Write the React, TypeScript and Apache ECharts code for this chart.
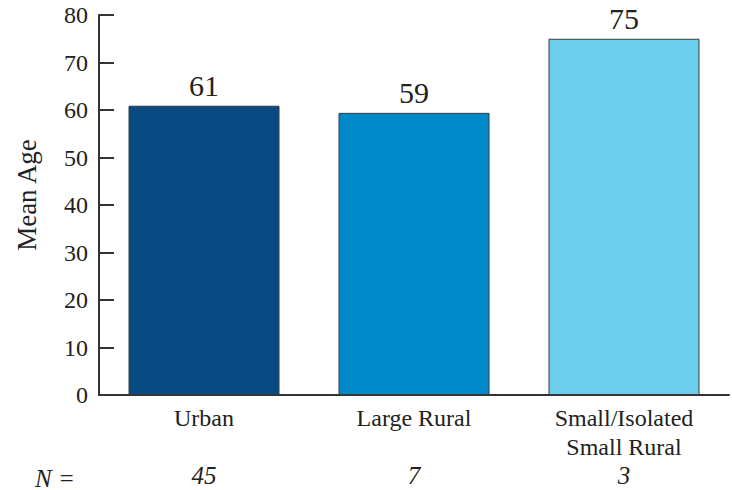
import React, { useEffect, useRef } from "react";
import * as echarts from "echarts";

const categories = ["Urban", "Large Rural", "Small/Isolated\nSmall Rural"];
const meanAge = [60.9, 59.4, 75];
const nValues = ["45", "7", "3"];
const barColors = ["#084B83", "#0089CA", "#6DCDEC"];
const yTicks = [0, 10, 20, 30, 40, 50, 60, 70, 80];

const FONT = "Liberation Serif";

export default function App() {
  const ref = useRef<HTMLDivElement>(null);
  useEffect(() => {
    const chart = echarts.init(ref.current!, null, { renderer: "svg" });
    chart.setOption({
      animation: false,
      grid: { left: 99, top: 15, width: 630, height: 380, containLabel: false },
      xAxis: [
        {
          type: "category",
          data: categories,
          axisLine: { show: true, lineStyle: { color: "#333", width: 2 } },
          axisTick: { show: false },
          axisLabel: {
            fontFamily: FONT,
            fontSize: 24,
            color: "#222",
            margin: 8,
            lineHeight: 29,
          },
        },
        {
          type: "category",
          data: nValues,
          position: "bottom",
          axisLine: { show: false },
          axisTick: { show: false },
          axisLabel: {
            fontFamily: FONT,
            fontSize: 25,
            fontStyle: "italic",
            color: "#222",
            margin: 68,
          },
        },
      ],
      yAxis: {
        type: "value",
        min: 0,
        max: 80,
        interval: 10,
        axisLine: { show: true, lineStyle: { color: "#333", width: 2 } },
        axisTick: { show: true, inside: true, length: 15, lineStyle: { color: "#333", width: 2 } },
        axisLabel: {
          fontFamily: FONT,
          fontSize: 24,
          color: "#222",
          margin: 11,
          formatter: (v: number) => (yTicks.includes(v) ? String(v) : ""),
        },
        splitLine: { show: false },
      },
      graphic: [
        {
          type: "text",
          x: 27,
          y: 195,
          rotation: Math.PI / 2,
          style: {
            text: "Mean Age",
            font: `27px ${FONT}`,
            fill: "#222",
            align: "center",
            verticalAlign: "middle",
          },
        },
        {
          type: "text",
          x: 35,
          y: 478,
          style: {
            text: "N =",
            font: `italic 25px ${FONT}`,
            fill: "#222",
            align: "left",
            verticalAlign: "middle",
          },
        },
      ],
      series: [
        {
          type: "bar",
          xAxisIndex: 0,
          barWidth: 151,
          data: meanAge.map((v, i) => ({
            value: v,
            itemStyle: { color: barColors[i], borderColor: "#3a3a3a", borderWidth: 1 },
          })),
          label: {
            show: true,
            position: "top",
            distance: 5,
            fontFamily: FONT,
            fontSize: 30,
            color: "#222",
            formatter: (p: any) => String(Math.round(p.value)),
          },
        },
      ],
    });
    return () => chart.dispose();
  }, []);
  return (
    <div
      ref={ref}
      style={{ position: "fixed", left: 0, top: 0, width: 732, height: 490, background: "#fff" }}
    />
  );
}
